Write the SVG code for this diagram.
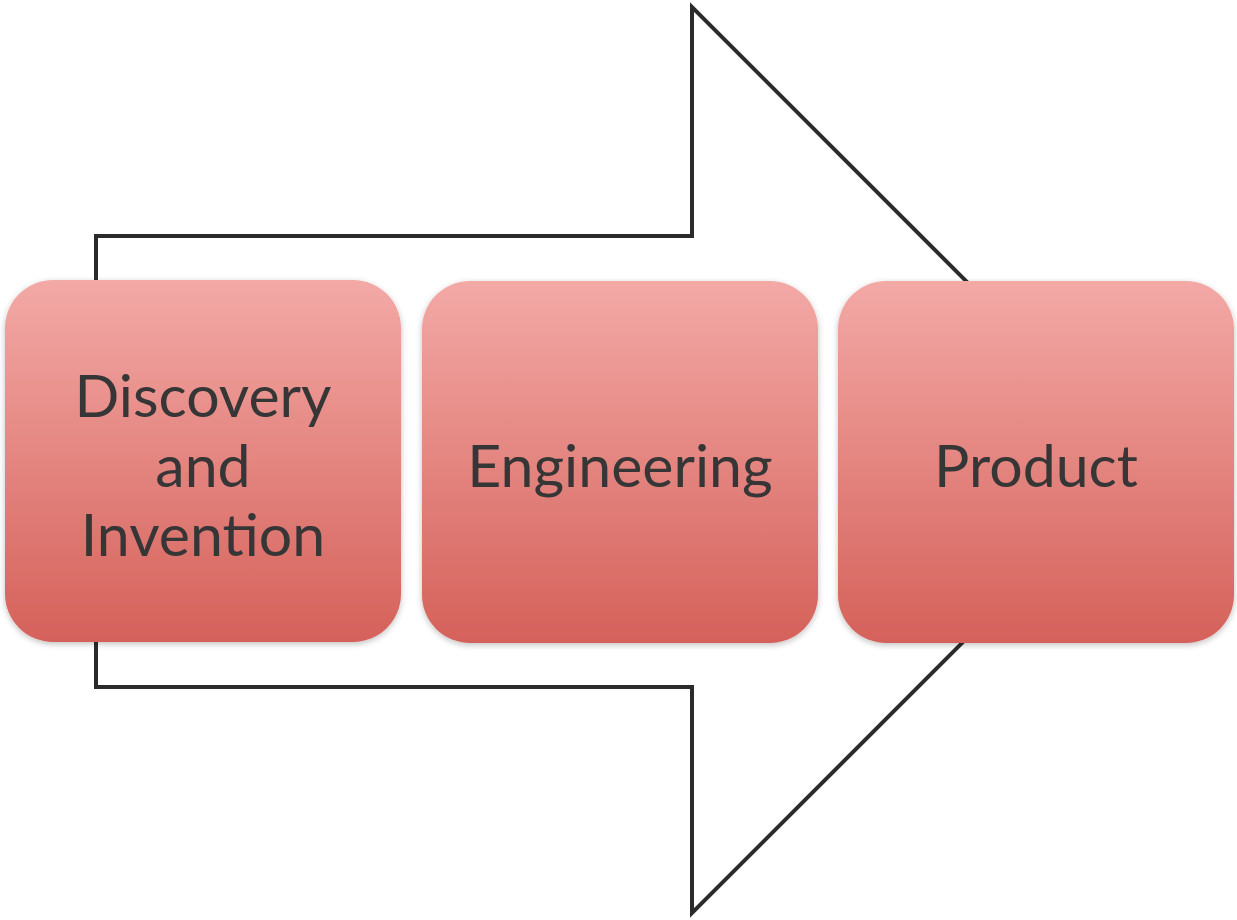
<svg xmlns="http://www.w3.org/2000/svg" width="1237" height="920" viewBox="0 0 1237 920">
<defs>
<linearGradient id="g" x1="0" y1="0" x2="0" y2="1">
<stop offset="0" stop-color="#f3a9a6"/>
<stop offset="1" stop-color="#d5615a"/>
</linearGradient>
<filter id="sh" x="-5%" y="-5%" width="110%" height="110%">
<feGaussianBlur in="SourceAlpha" stdDeviation="3"/>
<feOffset dy="2"/>
<feComponentTransfer><feFuncA type="linear" slope="0.25"/></feComponentTransfer>
<feMerge><feMergeNode/><feMergeNode in="SourceGraphic"/></feMerge>
</filter>
</defs>
<style>
.box{fill:url(#g);filter:url(#sh)}
.t{font-family:Lato,"Open Sans","Liberation Sans",sans-serif;font-size:59px;fill:#363636;text-anchor:middle}
</style>
<rect width="1237" height="920" fill="#fff"/>
<g id="connectors">
<path d="M96,300 V236 H692 V7 L1145,460 L692,913 V687 H96 V620" fill="none" stroke="#2b2b2b" stroke-width="4" stroke-linejoin="miter"/>
</g>
<g id="node1">
<rect class="box" x="5" y="280" width="396" height="362" rx="48"/>
<text class="t" x="203" y="417">Discovery</text>
<text class="t" x="203" y="487">and</text>
<text class="t" x="203" y="556">Invention</text>
</g>
<g id="node2">
<rect class="box" x="422" y="281" width="396" height="362" rx="48"/>
<text class="t" x="620" y="487">Engineering</text>
</g>
<g id="node3">
<rect class="box" x="838" y="281" width="396" height="362" rx="48"/>
<text class="t" x="1036" y="487">Product</text>
</g>
</svg>
